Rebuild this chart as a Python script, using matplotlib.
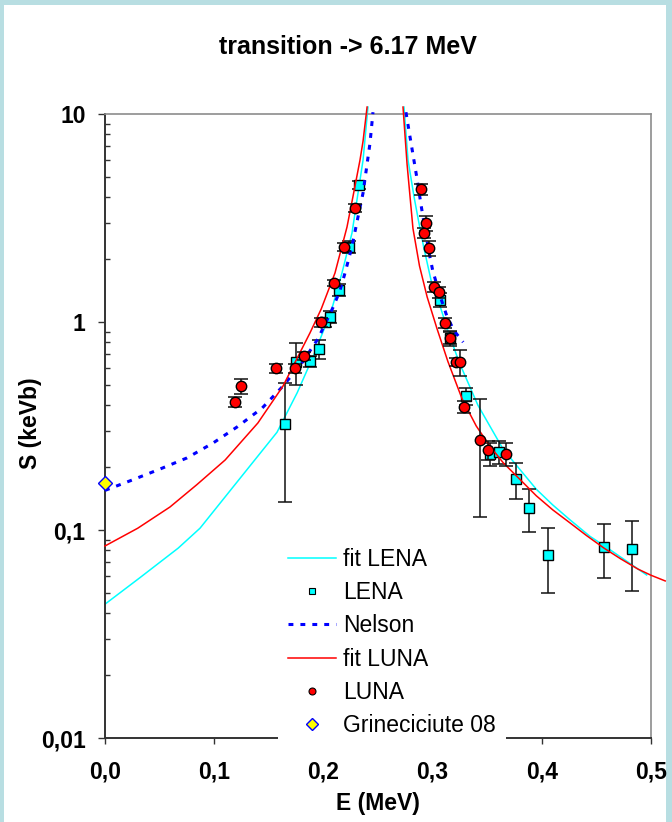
import matplotlib
matplotlib.use('Agg')
import matplotlib.pyplot as plt
from matplotlib.lines import Line2D
from matplotlib.patches import Rectangle
from matplotlib.ticker import LogLocator, NullFormatter

plt.rcParams['font.family'] = ['Liberation Sans', 'DejaVu Sans']

# fit LENA, below and above the resonance (E in MeV, S in keVb)
fit_lena_lo_e = [0.0, 0.032, 0.067, 0.087, 0.1117, 0.133, 0.1575, 0.176, 0.1905, 0.207, 0.217, 0.2262, 0.2317, 0.2363, 0.2408]
fit_lena_lo_s = [0.044, 0.059, 0.0818, 0.102, 0.148, 0.204, 0.295, 0.457, 0.68, 1.12, 1.72, 2.68, 4.17, 6.0, 10.8]
fit_lena_hi_e = [0.2738, 0.2775, 0.283, 0.2875, 0.292, 0.2995, 0.306, 0.314, 0.324, 0.3415, 0.3645, 0.377, 0.395, 0.41, 0.426, 0.444, 0.457, 0.475, 0.496]
fit_lena_hi_s = [10.8, 6.0, 4.0, 2.99, 2.27, 1.51, 1.23, 0.91, 0.646, 0.398, 0.245, 0.204, 0.157, 0.132, 0.1117, 0.0933, 0.0841, 0.0724, 0.0608]

# fit LUNA
fit_luna_lo_e = [0.0, 0.030, 0.0595, 0.084, 0.110, 0.140, 0.163, 0.1877, 0.198, 0.2106, 0.2216, 0.227, 0.2335, 0.2363, 0.240]
fit_luna_lo_s = [0.0838, 0.102, 0.129, 0.165, 0.217, 0.327, 0.492, 0.886, 1.155, 1.72, 2.86, 3.99, 6.0, 7.4, 10.8]
fit_luna_hi_e = [0.2729, 0.2766, 0.282, 0.288, 0.295, 0.304, 0.314, 0.327, 0.340, 0.352, 0.3645, 0.380, 0.395, 0.410, 0.426, 0.441, 0.457, 0.472, 0.488, 0.500, 0.513]
fit_luna_hi_s = [10.8, 5.75, 2.82, 1.86, 1.32, 0.93, 0.646, 0.427, 0.316, 0.255, 0.211, 0.175, 0.146, 0.125, 0.108, 0.094, 0.0818, 0.0728, 0.0649, 0.0606, 0.0569]

# Nelson
nelson_lo_e = [0.0, 0.025, 0.050, 0.075, 0.099, 0.121, 0.144, 0.163, 0.181, 0.195, 0.209, 0.215, 0.2198, 0.226, 0.2317, 0.2363, 0.240, 0.2427, 0.2454]
nelson_lo_s = [0.155, 0.174, 0.196, 0.222, 0.262, 0.313, 0.386, 0.492, 0.643, 0.83, 1.18, 1.41, 1.72, 2.29, 3.2, 4.17, 5.75, 7.26, 10.2]
nelson_hi_e = [0.2756, 0.279, 0.2825, 0.286, 0.2895, 0.293, 0.2965, 0.300, 0.3065, 0.313, 0.3195, 0.328]
nelson_hi_s = [10.2, 7.94, 6.17, 4.79, 3.63, 2.82, 2.19, 1.78, 1.35, 1.07, 0.91, 0.80]

# LENA data
lena_e = [0.165, 0.175, 0.1877, 0.196, 0.2015, 0.206, 0.214, 0.2235, 0.2326,
          0.307, 0.316, 0.3306, 0.3526, 0.361, 0.3764, 0.388, 0.4057, 0.457, 0.4826]
lena_s = [0.324, 0.643, 0.65, 0.741, 1.0, 1.06, 1.43, 2.29, 4.56,
          1.28, 0.84, 0.44, 0.232, 0.237, 0.176, 0.128, 0.0758, 0.0828, 0.081]
lena_err = [0.187, 0.146, 0.04, 0.08, 0.05, 0.07, 0.1, 0.15, 0.2,
            0.1, 0.06, 0.04, 0.03, 0.03, 0.035, 0.03, 0.026, 0.024, 0.03]

# LUNA data
luna_e = [0.119, 0.1245, 0.157, 0.174, 0.182, 0.198, 0.2097, 0.219, 0.229,
          0.2894, 0.294, 0.292, 0.2967, 0.301, 0.306, 0.311, 0.316, 0.321, 0.325,
          0.329, 0.3434, 0.3504, 0.367]
luna_s = [0.412, 0.492, 0.601, 0.601, 0.687, 1.0, 1.54, 2.29, 3.53,
          4.35, 2.99, 2.68, 2.27, 1.47, 1.39, 0.99, 0.837, 0.643, 0.643,
          0.39, 0.271, 0.243, 0.232]
luna_err = [0.022, 0.04, 0.03, 0.03, 0.03, 0.05, 0.05, 0.1, 0.15,
            0.28, 0.25, 0.15, 0.19, 0.08, 0.08, 0.05, 0.07, 0.03, 0.09,
            0.025, 0.155, 0.025, 0.03]

# Grineciciute 08
grin_e = [0.0]
grin_s = [0.168]

x_ticks = [0.0, 0.1, 0.2, 0.3, 0.4, 0.5]
x_tick_labels = ['0,0', '0,1', '0,2', '0,3', '0,4', '0,5']
y_ticks = [0.01, 0.1, 1, 10]
y_tick_labels = ['0,01', '0,1', '1', '10']

W, H = 672, 822
fig = plt.figure(figsize=(W / 100, H / 100), dpi=100)
fig.patch.set_facecolor('#B8DEE2')
fig.add_artist(Rectangle((4 / W, 0), 662 / W, 1 - 5 / H, transform=fig.transFigure,
                         facecolor='white', edgecolor='none', zorder=-1))

ax = fig.add_axes([105 / W, 1 - 738 / H, 546 / W, 624 / H])
ax.set_yscale('log')

cyan = '#00FFFF'
ax.plot(fit_lena_lo_e, fit_lena_lo_s, color=cyan, lw=1.1, zorder=2, clip_on=False)
ax.plot(fit_lena_hi_e, fit_lena_hi_s, color=cyan, lw=1.1, zorder=2, clip_on=False)

ax.errorbar(lena_e, lena_s, yerr=lena_err, fmt='none', ecolor='#111111', elinewidth=1.1,
            capsize=5, capthick=1.1, zorder=3)
ax.plot(lena_e, lena_s, ls='none', marker='s', ms=7, mfc=cyan, mec='black', mew=1.0, zorder=3.5)

nelson_ls = (0, (1.6, 2.3))
ax.plot(nelson_lo_e, nelson_lo_s, color='#0000FF', lw=2.2, ls=nelson_ls, zorder=4, clip_on=False)
ax.plot(nelson_hi_e, nelson_hi_s, color='#0000FF', lw=2.2, ls=nelson_ls, zorder=4, clip_on=False)

ax.plot(fit_luna_lo_e, fit_luna_lo_s, color='#FF0000', lw=1.1, zorder=4.5, clip_on=False)
ax.plot(fit_luna_hi_e, fit_luna_hi_s, color='#FF0000', lw=1.1, zorder=4.5, clip_on=False)

ax.errorbar(luna_e, luna_s, yerr=luna_err, fmt='none', ecolor='#111111', elinewidth=1.1,
            capsize=5, capthick=1.1, zorder=5)
ax.plot(luna_e, luna_s, ls='none', marker='o', ms=7.5, mfc='#FF0000', mec='black', mew=1.0, zorder=5.5)

ax.plot(grin_e, grin_s, ls='none', marker='D', ms=7, mfc='#FFFF00', mec='#0000FF', mew=1.0,
        zorder=6, clip_on=False)

ax.set_xlim(0, 0.5)
ax.set_ylim(0.01, 10)

ax.set_xticks(x_ticks)
ax.set_xticklabels(x_tick_labels, fontsize=16.5, fontweight='bold')
ax.set_yticks(y_ticks)
ax.set_yticklabels(y_tick_labels, fontsize=16.5, fontweight='bold')
ax.yaxis.set_minor_locator(LogLocator(base=10, subs=range(2, 10)))
ax.yaxis.set_minor_formatter(NullFormatter())

ax.tick_params(axis='y', which='major', direction='out', length=5, width=1, color='#333333', pad=9)
ax.tick_params(axis='y', which='minor', direction='in', length=3.6, width=1, color='#333333')
ax.tick_params(axis='x', which='major', direction='out', length=4, width=1, color='#333333', pad=12)

for side in ['left', 'bottom']:
    ax.spines[side].set_color('#333333')
    ax.spines[side].set_linewidth(1.4)
for side in ['top', 'right']:
    ax.spines[side].set_color('#8C8C8C')
    ax.spines[side].set_linewidth(1.2)

handles = [
    Line2D([], [], color=cyan, lw=1.1),
    Line2D([], [], ls='none', marker='s', ms=4.5, mfc=cyan, mec='black', mew=0.8),
    Line2D([], [], color='#0000FF', lw=2.2, ls=nelson_ls),
    Line2D([], [], color='#FF0000', lw=1.1),
    Line2D([], [], ls='none', marker='o', ms=5, mfc='#FF0000', mec='black', mew=0.8),
    Line2D([], [], ls='none', marker='D', ms=6, mfc='#FFFF00', mec='#0000FF', mew=1.0),
]
labels = ['fit LENA', 'LENA', 'Nelson', 'fit LUNA', 'LUNA', 'Grineciciute 08']
leg = ax.legend(handles, labels, loc='upper left', bbox_to_anchor=(278 / W, 1 - 538 / H),
                bbox_transform=fig.transFigure, frameon=True, facecolor='white',
                edgecolor='none', framealpha=1, fancybox=False, fontsize=16.5,
                handlelength=2.1, handletextpad=0.3, labelspacing=0.44, borderpad=0.45,
                borderaxespad=0)
leg.set_zorder(10)

fig.text(348 / W, 1 - 47 / H, 'transition -> 6.17 MeV', ha='center', va='center',
         fontsize=18, fontweight='bold')
fig.text(378 / W, 1 - 803 / H, 'E (MeV)', ha='center', va='center', fontsize=16.5, fontweight='bold')
fig.text(31 / W, 1 - 423 / H, 'S (keVb)', ha='center', va='center', rotation=90,
         fontsize=16.5, fontweight='bold')

fig.savefig('out.png', dpi=100, facecolor=fig.get_facecolor())
